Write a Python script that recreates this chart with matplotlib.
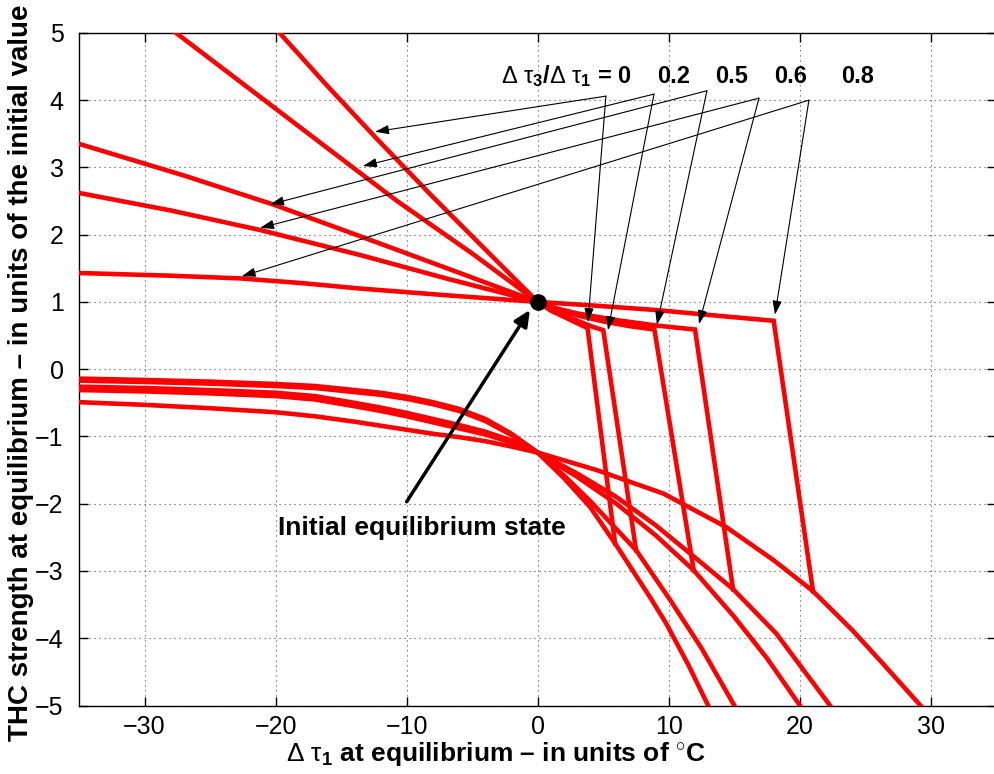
import matplotlib
matplotlib.use("Agg")
import matplotlib.pyplot as plt

plt.rcParams["font.family"] = ["Liberation Sans", "DejaVu Sans"]
plt.rcParams["mathtext.fontset"] = "custom"
plt.rcParams["mathtext.rm"] = "Liberation Sans"
plt.rcParams["mathtext.it"] = "Liberation Sans"
plt.rcParams["mathtext.bf"] = "Liberation Sans:bold"

# ratio d_tau3 / d_tau1 for each curve
ratios = ["0", "0.2", "0.5", "0.6", "0.8"]

# upper (stable) branch, ending at the fold corner
upper_x = [
    [-19.7, -16, -12.4, -8.2, -4, 0, 1, 2.2, 3.8],
    [-27.6, -22, -16, -10.8, -5, 0, 1, 2.5, 4.2, 5.0],
    [-35, -27, -20.2, -13.6, -6.5, 0, 1.5, 3, 5, 7, 8.9],
    [-35, -28, -21.2, -13.6, -7, 0, 1.5, 3, 6, 9, 12],
    [-35, -28, -22.7, -18, -13.6, -7, 0, 4, 9, 14, 18],
]
upper_y = [
    [5.0, 4.20, 3.45, 2.60, 1.78, 1.0, 0.87, 0.76, 0.61],
    [5.0, 4.17, 3.28, 2.51, 1.72, 1.0, 0.89, 0.76, 0.63, 0.58],
    [3.35, 2.88, 2.45, 1.98, 1.47, 1.0, 0.88, 0.80, 0.71, 0.64, 0.59],
    [2.62, 2.36, 2.07, 1.70, 1.35, 1.0, 0.90, 0.83, 0.73, 0.65, 0.59],
    [1.43, 1.39, 1.35, 1.28, 1.20, 1.10, 1.0, 0.95, 0.88, 0.79, 0.72],
]

# lower branch, from the left edge down to the bottom of the plot
lower_x = [
    [-35, -30, -25, -20, -17, -14, -12, -10, -8, -6, -4, -2, 0, 2, 4, 5.9, 8.6, 9.8, 11.5, 13.0],
    [-35, -30, -25, -20, -17, -14, -12, -10, -8, -6, -4, -2, 0, 2, 4, 7.5, 10.1, 12.5, 15.0],
    [-35, -30, -25, -20, -17, -14, -12, -10, -8, -6, -4, -2, 0, 3, 6, 9, 11.9, 14.9, 17.5, 20.0],
    [-35, -30, -25, -20, -17, -14, -12, -10, -8, -6, -4, -2, 0, 3, 6, 9, 12, 14.9, 18.2, 22.3],
    [-35, -30, -25, -20, -17, -14, -12, -10, -8, -6, -4, -2, 0, 4.5, 9.6, 14.4, 18.0, 21.0, 24.0, 26.3, 29.2],
]
lower_y = [
    [-0.14, -0.16, -0.185, -0.22, -0.25, -0.31, -0.35, -0.41, -0.49, -0.59, -0.74, -0.96, -1.24,
     -1.62, -2.05, -2.59, -3.40, -3.78, -4.40, -5.0],
    [-0.17, -0.19, -0.215, -0.25, -0.28, -0.34, -0.38, -0.44, -0.52, -0.62, -0.77, -0.98, -1.24,
     -1.58, -1.96, -2.69, -3.43, -4.15, -5.0],
    [-0.26, -0.28, -0.31, -0.35, -0.40, -0.50, -0.57, -0.65, -0.74, -0.83, -0.93, -1.06, -1.24,
     -1.60, -2.0, -2.47, -2.99, -3.66, -4.30, -5.0],
    [-0.31, -0.33, -0.36, -0.40, -0.45, -0.55, -0.62, -0.70, -0.79, -0.88, -0.97, -1.09, -1.24,
     -1.55, -1.90, -2.32, -2.80, -3.27, -3.93, -5.0],
    [-0.49, -0.53, -0.58, -0.64, -0.70, -0.78, -0.84, -0.90, -0.96, -1.01, -1.07, -1.15, -1.24,
     -1.50, -1.85, -2.35, -2.84, -3.30, -3.88, -4.37, -5.0],
]

# where the jump from the fold lands on the lower branch
jump_x = [5.9, 7.5, 11.9, 14.9, 21.0]
jump_y = [-2.59, -2.69, -2.99, -3.27, -3.30]

# initial equilibrium
eq_x, eq_y = 0.0, 1.0

# annotation arrows: tail under each label, one tip on the left part, one at the fold
tail_x = [5.20, 8.87, 12.91, 16.88, 20.69]
tail_y = [4.06, 4.09, 4.14, 4.03, 4.00]
left_tip_x = [-12.42, -13.34, -20.43, -21.19, -22.59]
left_tip_y = [3.53, 3.02, 2.45, 2.10, 1.38]
right_tip_x = [3.83, 5.36, 9.09, 12.30, 18.10]
right_tip_y = [0.70, 0.58, 0.66, 0.67, 0.81]
label_x = [7.19, 10.4, 14.82, 19.3, 24.4]
label_y = 4.26

xticks = [-30, -20, -10, 0, 10, 20, 30]
yticks = [-5, -4, -3, -2, -1, 0, 1, 2, 3, 4, 5]

fig = plt.figure(figsize=(9.94, 7.74), dpi=100)
ax = fig.add_axes([0.0795, 0.0885, 0.9230, 0.8690])

for i in range(len(ratios)):
    ax.plot(upper_x[i] + [jump_x[i]], upper_y[i] + [jump_y[i]], color="red", lw=3.3,
            solid_joinstyle="miter", zorder=3)
    ax.plot(lower_x[i], lower_y[i], color="red", lw=3.3, zorder=3)

ax.plot([eq_x], [eq_y], "o", color="black", markersize=11, zorder=5)

thin = dict(arrowstyle="-|>,head_length=0.6,head_width=0.2", mutation_scale=14,
            color="black", lw=0.8, shrinkA=0, shrinkB=0)
for i in range(len(ratios)):
    ax.annotate("", xy=(left_tip_x[i], left_tip_y[i]), xytext=(tail_x[i], tail_y[i]),
                arrowprops=thin, zorder=4)
    ax.annotate("", xy=(right_tip_x[i], right_tip_y[i]), xytext=(tail_x[i], tail_y[i]),
                arrowprops=thin, zorder=4)

ax.text(label_x[0], label_y, r"$\Delta\ \tau_{\mathbf{3}}$/$\Delta\ \tau_{\mathbf{1}}$ = " + ratios[0],
        ha="right", va="baseline", fontsize=17, fontweight="bold")
for i in range(1, len(ratios)):
    ax.text(label_x[i], label_y, ratios[i], ha="center", va="baseline",
            fontsize=17, fontweight="bold")

ax.annotate("", xy=(-0.6, 0.88), xytext=(-10.0, -1.97),
            arrowprops=dict(arrowstyle="-|>,head_length=0.6,head_width=0.28",
                            mutation_scale=16, color="black", lw=2.5,
                            shrinkA=0, shrinkB=0), zorder=4)
ax.text(-8.83, -2.465, "Initial equilibrium state", ha="center", va="baseline",
        fontsize=19, fontweight="bold")

ax.set_xlim(-35, 35)
ax.set_ylim(-5, 5)
ax.set_xticks(xticks)
ax.set_yticks(yticks)
ax.tick_params(direction="in", length=6.5, width=1, top=True, right=True, labelsize=18)
ax.tick_params(axis="x", pad=7)
ax.tick_params(axis="y", pad=11)
ax.grid(True, color="0.3", linestyle=(0, (1, 3.5)), lw=0.8)
for sp in ax.spines.values():
    sp.set_linewidth(1.0)

ax.set_xlabel(r"$\Delta\ \tau_{\mathbf{1}}$ at equilibrium – in units of $^{\circ}$C",
              fontsize=19, fontweight="bold")
ax.set_ylabel("THC strength at equilibrium – in units of the initial value",
              fontsize=20, fontweight="bold")
ax.xaxis.set_label_coords(0.4545, -0.052)
ax.yaxis.set_label_coords(-0.049, 0.495)

fig.savefig("out.png", dpi=100)
